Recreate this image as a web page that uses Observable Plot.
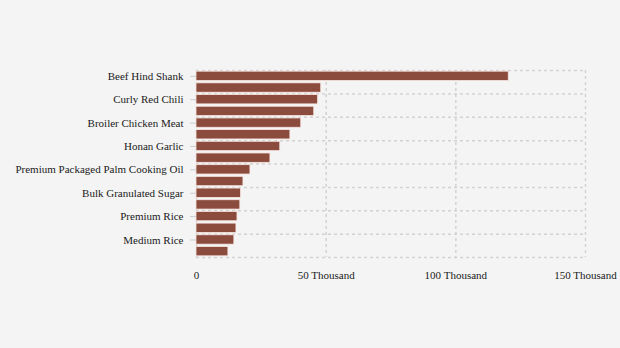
<!DOCTYPE html>
<html>
<head>
<meta charset="utf-8">
<script src="https://cdn.jsdelivr.net/npm/d3@7"></script>
<script src="https://cdn.jsdelivr.net/npm/@observablehq/plot@0.6"></script>
<style>
  html, body { margin: 0; padding: 0; background: #f4f4f4; }
  #chart svg, #chart svg text { font-family: "Times New Roman", Times, "Liberation Serif", "DejaVu Serif", serif !important; }
</style>
</head>
<body>
<div id="chart"></div>
<script>
const commodities = [
  "Beef Hind Shank",
  "Red Cayenne Pepper",
  "Curly Red Chili",
  "Big Red Chili",
  "Broiler Chicken Meat",
  "Shallot",
  "Honan Garlic",
  "Chicken Egg",
  "Premium Packaged Palm Cooking Oil",
  "Simple Packaged Palm Cooking Oil",
  "Bulk Granulated Sugar",
  "Bulk Palm Cooking Oil",
  "Premium Rice",
  "Imported Soybean",
  "Medium Rice",
  "Wheat Flour"
];
const prices = [120400, 48100, 46900, 45400, 40400, 36200, 32300, 28500, 20800, 18100, 17200, 16900, 15800, 15400, 14600, 12300];
const labeledCommodities = commodities.filter((d, i) => i % 2 === 0);
const xTicks = [0, 50000, 100000, 150000];

const data = commodities.map((c, i) => ({commodity: c, price: prices[i]}));

const W = 620, H = 348, mTop = 70, mBottom = 91, mLeft = 196, mRight = 35;
const step = (H - mTop - mBottom) / commodities.length;
const FONT = "Times New Roman, Times, Liberation Serif, serif";

const chart = Plot.plot({
  width: W,
  height: H,
  marginTop: mTop,
  marginBottom: mBottom,
  marginLeft: mLeft,
  marginRight: mRight,
  style: {fontFamily: FONT, fontSize: "11px", background: "#f4f4f4", color: "#1a1a1a"},
  x: {domain: [0, 150000]},
  y: {domain: commodities, paddingInner: 0.2, paddingOuter: 0.1, round: false},
  marks: [
    Plot.gridX(xTicks, {stroke: "#d2d2d2", strokeOpacity: 1, strokeWidth: 1.5, strokeDasharray: "3,3"}),
    Plot.ruleY(labeledCommodities, {dy: -step / 2, stroke: "#d2d2d2", strokeWidth: 1.5, strokeDasharray: "3,3"}),
    Plot.ruleY([commodities[commodities.length - 1]], {dy: step / 2, stroke: "#d2d2d2", strokeWidth: 1.5, strokeDasharray: "3,3"}),
    Plot.barX(data, {x: "price", y: "commodity", fill: "#8b4b3d", stroke: "#f7e6e2", strokeWidth: 0.8}),
    Plot.axisY({ticks: labeledCommodities, tickSize: 6, tickPadding: 7, stroke: "#cccccc", label: null, fontFamily: FONT, fontSize: 11}),
    Plot.axisX({ticks: xTicks, tickSize: 0, tickPadding: 14, label: null, fontFamily: FONT, fontSize: 11,
      tickFormat: d => d === 0 ? "0" : `${d / 1000} Thousand`})
  ]
});
document.getElementById("chart").appendChild(chart);
</script>
</body>
</html>
